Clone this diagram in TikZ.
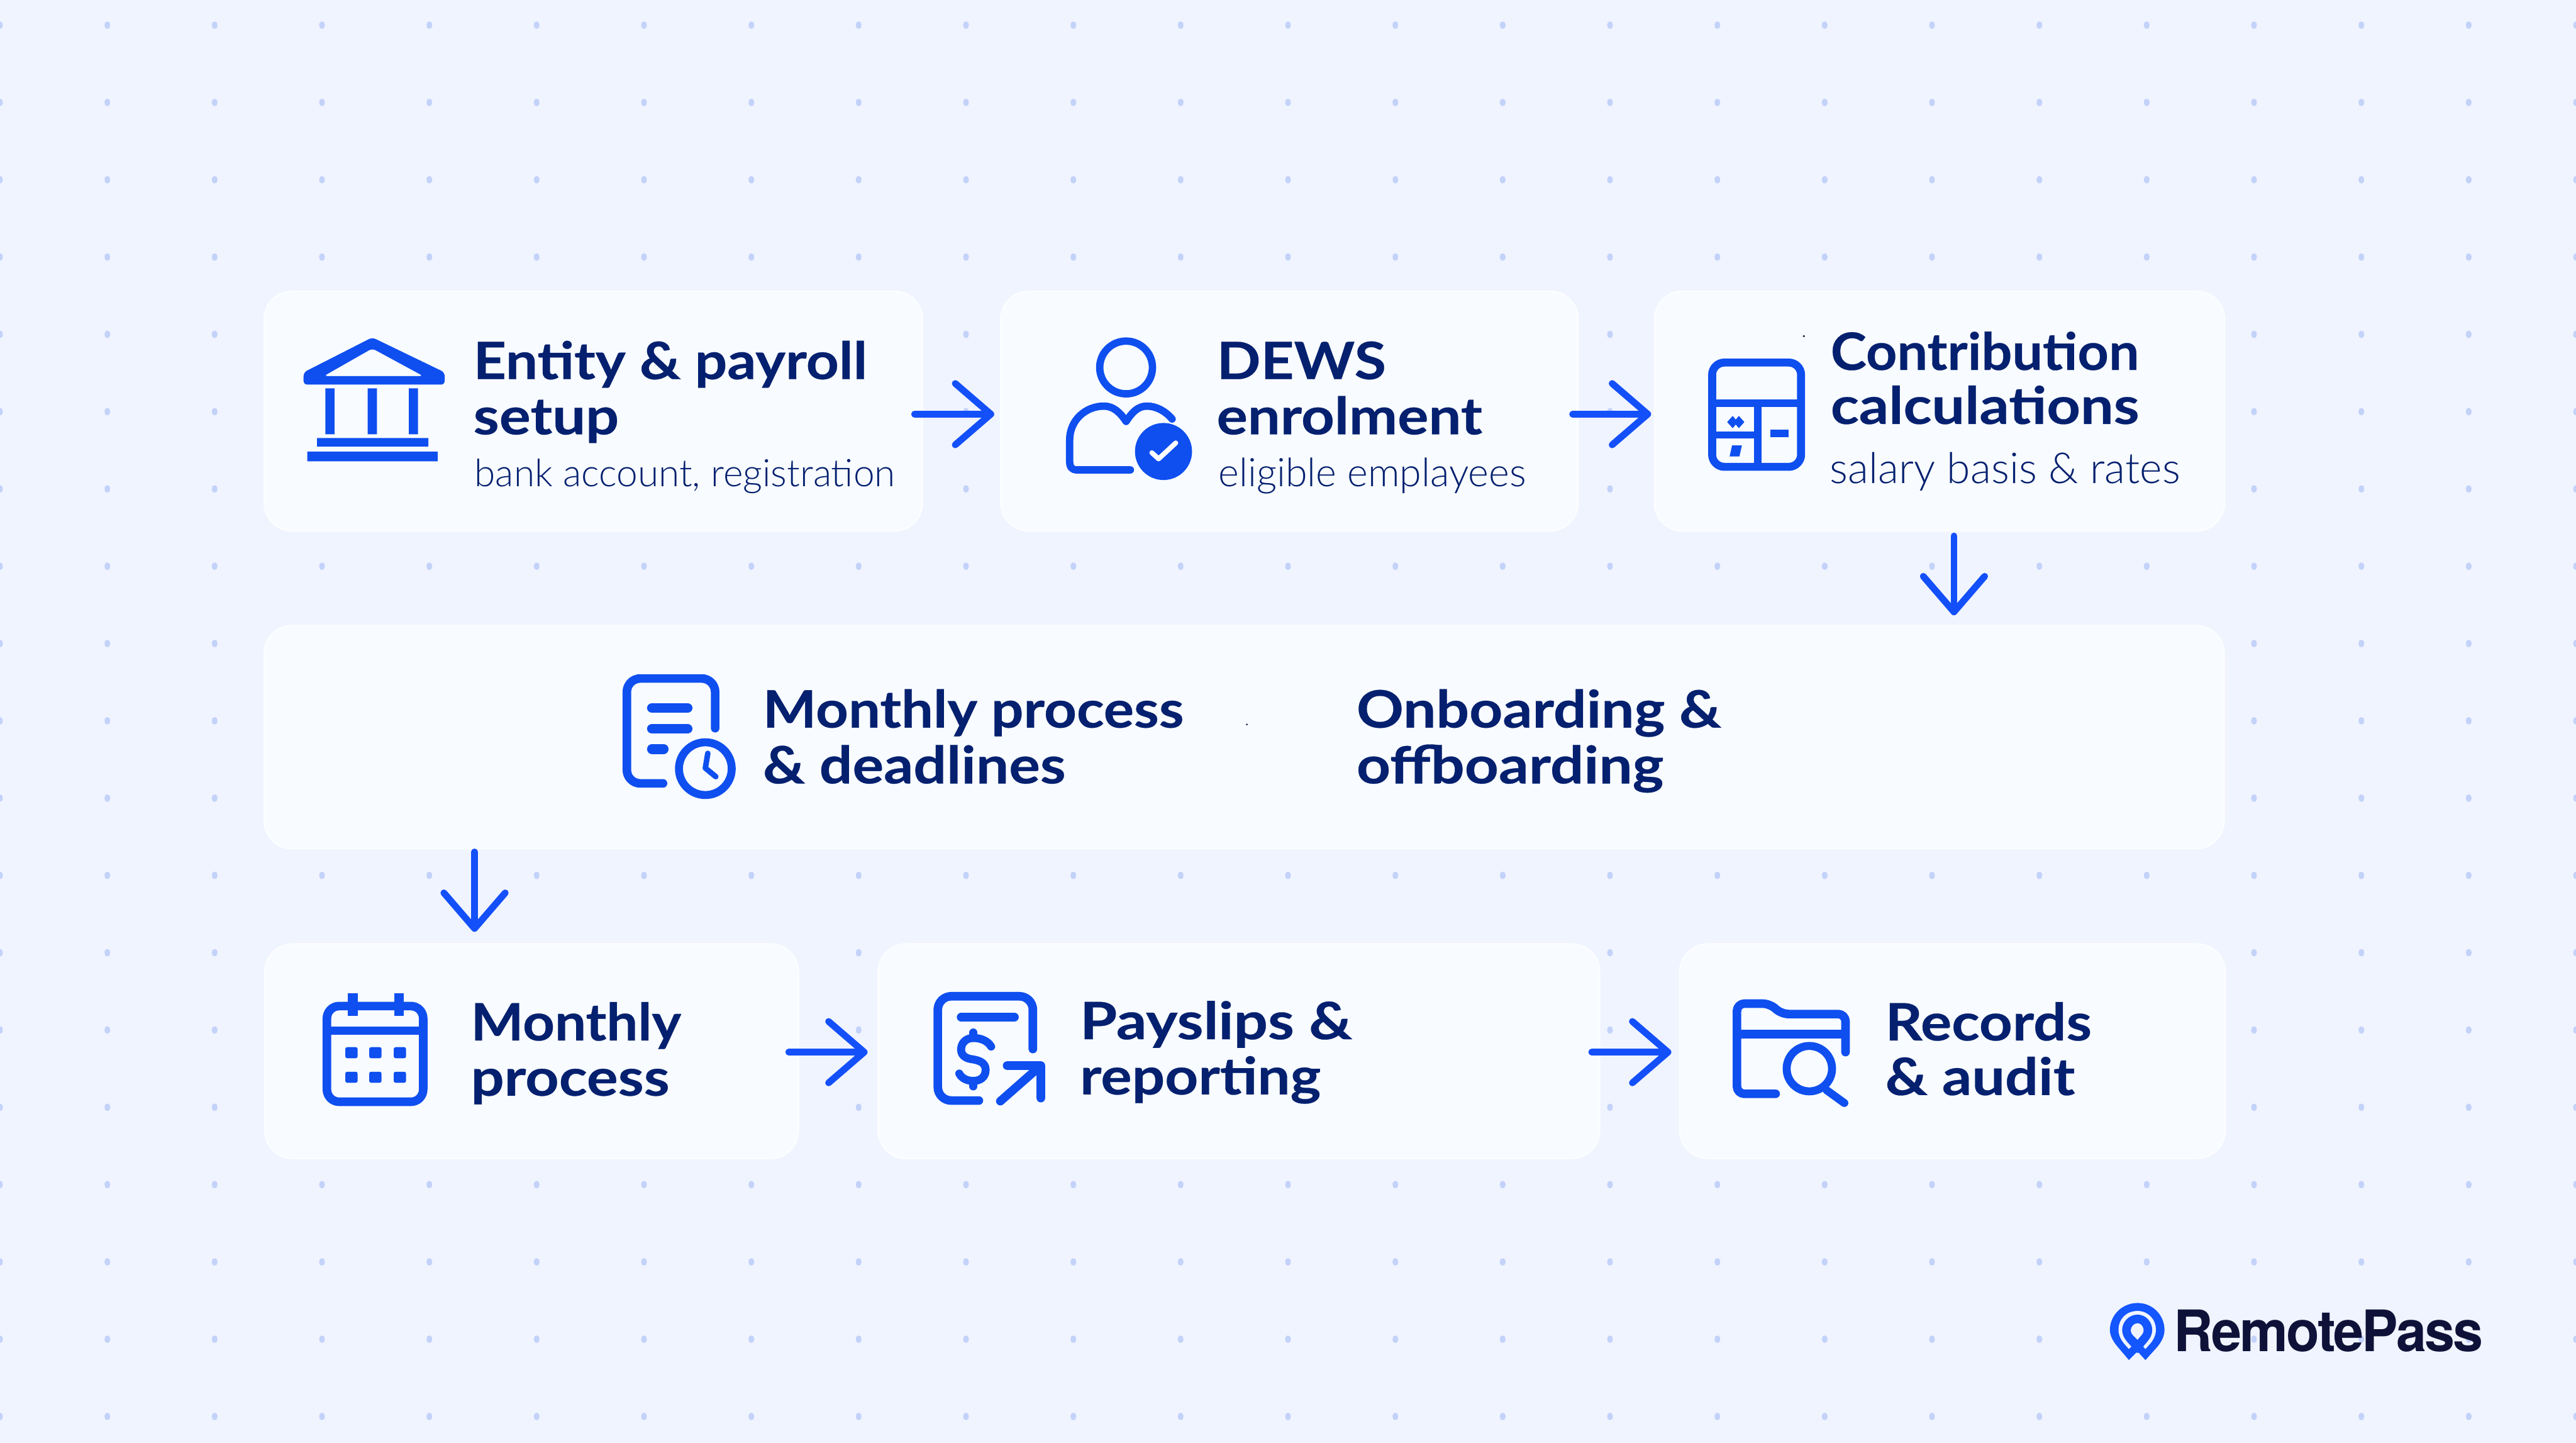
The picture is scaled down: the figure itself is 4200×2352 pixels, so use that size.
\documentclass[tikz,border=0pt]{standalone}
\usepackage{fontspec}
\setmainfont{Lato}
\newfontfamily\titlefont[FakeStretch=1.09,FakeBold=0.35]{Lato Bold}
\newfontfamily\sublight{Lato Light}
\newfontfamily\logofont[FakeStretch=.95,LetterSpace=-3]{TeX Gyre Heros Bold}
\usetikzlibrary{arrows.meta}
\newcommand{\sx}[2]{\scalebox{#1}[1]{#2}}
\definecolor{bgc}{HTML}{F0F4FF}
\definecolor{cardc}{HTML}{F8FBFF}
\definecolor{cardedge}{HTML}{FBFDFF}
\definecolor{dotc}{HTML}{C3D2F9}
\definecolor{iconc}{HTML}{0F4FF0}
\definecolor{flowc}{HTML}{1450FA}
\definecolor{navy}{HTML}{04206F}
\definecolor{logoink}{HTML}{0F1238}
\definecolor{logoblue}{HTML}{1456FF}
\tikzset{
  card/.style={anchor=north west,inner sep=0pt,outer sep=0pt,fill=cardc,draw=cardedge,line width=.03cm,rounded corners=.45cm},
  flow/.style={draw=flowc,line width=.11cm,line cap=round,-{Straight Barb[length=.58cm,width=1.0cm,round]}},
  cardtitle/.style={anchor=base west,align=left,inner sep=0pt,text=navy,font=\fontsize{23.9}{25.6}\selectfont\titlefont},
  cardsub/.style={anchor=base west,inner sep=0pt,text=navy},
  icon/.style={draw=iconc,line width=.13cm,line cap=round,line join=round,fill=none},
  iconfill/.style={fill=iconc,draw=none},
}
\begin{document}
\begin{tikzpicture}[x=.01cm,y=-.01cm]
\useasboundingbox (0,0) rectangle (4200,2352);
\fill[bgc] (0,0) rectangle (4200,2352);
% dot grid
\foreach \ix in {0,...,24}{\foreach \iy in {0,...,18}{
  \fill[dotc,rounded corners=.045cm] ({175*\ix-4.5},{41+126*\iy-6}) rectangle ++(9,12);
}}
% cards
\node[card,minimum width=10.72cm,minimum height=3.90cm] (c1) at (431,475) {};
\node[card,minimum width=9.40cm,minimum height=3.90cm] (c2) at (1632,475) {};
\node[card,minimum width=9.28cm,minimum height=3.90cm] (c3) at (2698,475) {};
\node[card,minimum width=31.93cm,minimum height=3.63cm] (c4) at (431,1020) {};
\node[card,minimum width=8.69cm,minimum height=3.49cm] (c5) at (432,1539) {};
\node[card,minimum width=11.75cm,minimum height=3.49cm] (c6) at (1432,1539) {};
\node[card,minimum width=8.88cm,minimum height=3.49cm] (c7) at (2739,1539) {};
% connectors
\draw[flow] ([xshift=-.125cm,yshift=-.05cm]c1.east) -- ([xshift=-.11cm,yshift=-.05cm]c2.west);
\draw[flow] ([xshift=-.085cm,yshift=-.05cm]c2.east) -- ([xshift=-.06cm,yshift=-.05cm]c3.west);
\draw[flow] ([xshift=.235cm,yshift=-.085cm]c3.south) coordinate (a3) -- ([yshift=.17cm]a3 |- c4.north);
\draw[flow] ([xshift=-.93cm,yshift=-.055cm]c5.north |- c4.south) -- ([xshift=-.93cm,yshift=.20cm]c5.north);
\draw[flow] ([xshift=-.155cm,yshift=-.015cm]c5.east) -- ([xshift=-.175cm,yshift=-.015cm]c6.west);
\draw[flow] ([xshift=-.125cm,yshift=-.015cm]c6.east) -- ([xshift=-.14cm,yshift=-.015cm]c7.west);
% texts
\node[cardtitle] (t1) at (771,618) {\sx{1.017}{Entity \& payroll}};
\node[cardtitle] (t1b) at (771,708) {\sx{1.048}{setup}};
\node[cardsub,font=\fontsize{17.6}{20}\selectfont\sublight] (s1) at (773,793) {bank account, registration};
\node[cardtitle] (t2) at (1983,618) {\sx{1.03}{DEWS}};
\node[cardtitle] (t2b) at (1983,708) {\sx{1.032}{enrolment}};
\node[cardsub,font=\fontsize{18.3}{20}\selectfont\sublight] (s2) at (1986,793) {eligible emplayees};
\node[cardtitle] (t3) at (2984,603) {\sx{.964}{Contribution}};
\node[cardtitle] (t3b) at (2984,691) {\sx{1.045}{calculations}};
\node[cardsub,font=\fontsize{19.8}{22}\selectfont\sublight] (s3) at (2983,788) {salary basis \& rates};
\node[cardtitle] (t4) at (1243,1186) {\sx{1.012}{Monthly process}};
\node[cardtitle] (t4b) at (1243,1277) {\sx{1.04}{\& deadlines}};
\node[cardtitle] (t5) at (2211,1186) {\sx{1.038}{Onboarding \&}};
\node[cardtitle] (t5b) at (2211,1277) {\sx{1.056}{offboarding}};
\node[cardtitle] (t6) at (767,1696) {\sx{.992}{Monthly}};
\node[cardtitle] (t6b) at (767,1786) {\sx{1.044}{process}};
\node[cardtitle] (t7) at (1760,1694) {\sx{1.07}{Payslips \&}};
\node[cardtitle] (t7b) at (1760,1784) {\sx{1.035}{reporting}};
\node[cardtitle] (t8) at (3073,1696) {\sx{1.033}{Records}};
\node[cardtitle] (t8b) at (3073,1785) {\sx{1.045}{\& audit}};
\node[anchor=base west,inner sep=0pt,text=logoink,font=\fontsize{26.5}{28}\selectfont\logofont] (lg) at (3544,2203) {RemotePass};
% bank icon
\fill[iconc,even odd rule,rounded corners=.06cm] (607,550) -- (725,607) -- (725,627) -- (495,627) -- (495,607) -- cycle (607,568) -- (690,613) -- (528,613) -- cycle;
\fill[iconc] (530.5,633) rectangle (545.5,708) (599.5,633) rectangle (614.5,708) (666.5,633) rectangle (681.5,708);
\fill[iconc] (517,714) rectangle (698.5,728) (501,736) rectangle (713.5,752);
% person icon
\draw[icon,line width=.12cm] (1836,599) circle[radius=43];
\draw[icon,line width=.12cm] (1843,766) -- (1756,766) .. controls (1748,766) and (1744,762) .. (1744,752) -- (1744,717) .. controls (1744,685) and (1770,662) .. (1800,662) .. controls (1815,662) and (1826,672) .. (1836,687) .. controls (1846,672) and (1855,662) .. (1870,662) .. controls (1885,662) and (1900,670) .. (1911,683);
\fill[iconc] (1897,736) circle[radius=46.5];
\draw[white,line width=.08cm,line cap=round,line join=round] (1878,738) -- (1889,748) -- (1917,722);
% calculator icon
\draw[icon,rounded corners=.2cm] (2791.5,591) rectangle (2936.5,761);
\draw[icon,line cap=butt,line width=.12cm] (2791,657) -- (2936,657) (2866,657) -- (2866,761) (2791,709) -- (2866,709);
\fill[iconc] (2816,688) -- (2825,678) -- (2830,684) -- (2835,678) -- (2844,688) -- (2835,698) -- (2830,692) -- (2825,698) -- cycle;
\fill[iconc] (2886,700) rectangle (2916,713);
\fill[iconc] (2824,726) -- (2840,726) -- (2836,744) -- (2820,744) -- cycle;
\fill[logoink] (2941,548) circle[radius=1.8];
% document clock icon
\draw[icon,line width=.14cm,rounded corners=.22cm] (1081,1277) -- (1022,1277) -- (1022,1106) -- (1166,1106) -- (1166,1187);
\draw[icon,line width=.16cm] (1063,1154) -- (1121,1154) (1063,1188) -- (1121,1188) (1063,1221) -- (1082,1221);
\draw[icon] (1150,1253) circle[radius=43];
\draw[icon,line width=.09cm] (1154,1228) -- (1150,1252) -- (1167,1266);
\fill[logoink] (2033,1181) circle[radius=1.5];
% calendar icon
\draw[icon,line width=.14cm,rounded corners=.2cm] (533,1640) rectangle (690,1796);
\draw[icon,line width=.14cm,line cap=butt] (533,1680) -- (690,1680);
\draw[icon,line width=.16cm,line cap=butt] (575,1619) -- (575,1656) (650.5,1619) -- (650.5,1656);
\foreach \dx in {573,612,652}{\foreach \dy in {1716,1756}{
  \fill[iconc,rounded corners=.03cm] ({\dx-10},{\dy-9}) rectangle ++(20,18);
}}
% payslip icon
\draw[icon,line width=.14cm,rounded corners=.22cm] (1596,1794) -- (1529,1794) -- (1529,1624) -- (1684,1624) -- (1684,1710);
\draw[icon,line width=.14cm] (1567,1658) -- (1654,1658);
\draw[icon,line width=.13cm] (1587,1683) -- (1587,1692) (1587,1762) -- (1587,1771);
\draw[icon,line width=.13cm] (1616,1706) .. controls (1610,1696) and (1598,1692) .. (1587,1692) .. controls (1575,1692) and (1567,1700) .. (1567,1711) .. controls (1567,1722) and (1577,1726) .. (1587,1727) .. controls (1598,1729) and (1607,1733) .. (1607,1744) .. controls (1607,1756) and (1598,1762) .. (1587,1762) .. controls (1577,1762) and (1568,1758) .. (1564,1750);
\draw[icon,line width=.14cm] (1631,1795) -- (1697,1737) (1642,1737) -- (1697,1737) -- (1697,1790);
% folder icon
\draw[icon,line width=.14cm,rounded corners=.12cm] (2895,1783) -- (2832,1783) -- (2832,1636) -- (2886,1636) -- (2904,1653) -- (3009,1653) -- (3009,1715);
\draw[icon,line width=.14cm,line cap=butt] (2832,1686) -- (3009,1686);
\draw[icon] (2950,1742) circle[radius=37];
\draw[icon] (2978,1777) -- (3007,1798);
% logo mark
\fill[logoblue] (3485,2124) .. controls (3510,2124) and (3529,2144) .. (3529,2168) .. controls (3529,2178) and (3524,2188) .. (3516,2197) -- (3498,2217) -- (3485,2203) -- (3471,2217) -- (3454,2197) .. controls (3446,2188) and (3440,2178) .. (3440,2168) .. controls (3440,2144) and (3460,2124) .. (3485,2124) -- cycle;
\fill[bgc] (3485,2137) .. controls (3502,2137) and (3515,2150) .. (3515,2168) .. controls (3515,2176) and (3511,2184) .. (3506,2190) -- (3498,2199) -- (3485,2185) -- (3471,2199) -- (3463,2190) .. controls (3458,2184) and (3454,2176) .. (3454,2168) .. controls (3454,2150) and (3467,2137) .. (3485,2137) -- cycle;
\fill[logoblue] (3485,2143) .. controls (3499,2143) and (3509,2155) .. (3509,2168) .. controls (3509,2175) and (3506,2181) .. (3501,2187) -- (3485,2206) -- (3468,2187) .. controls (3463,2181) and (3460,2175) .. (3460,2168) .. controls (3460,2155) and (3471,2143) .. (3485,2143) -- cycle;
\fill[bgc] (3485,2157) .. controls (3491,2157) and (3495,2163) .. (3495,2169) .. controls (3495,2172) and (3493,2175) .. (3491,2177) -- (3485,2184) -- (3478,2177) .. controls (3476,2175) and (3474,2172) .. (3474,2169) .. controls (3474,2163) and (3479,2157) .. (3485,2157) -- cycle;
\end{tikzpicture}
\end{document}
